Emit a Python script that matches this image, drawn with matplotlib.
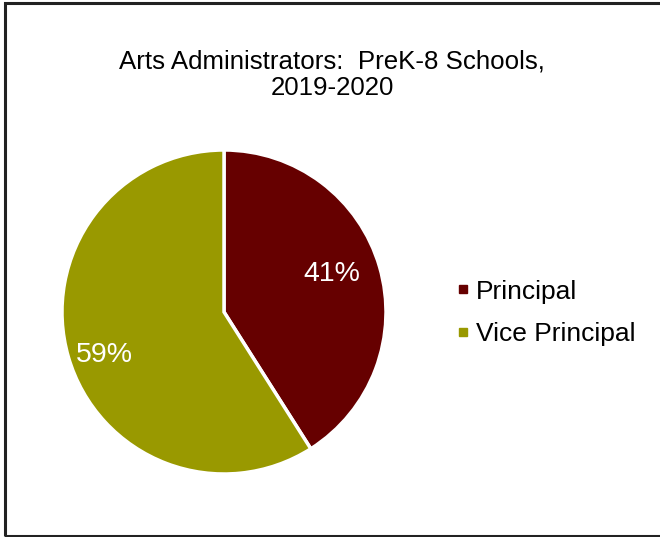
import matplotlib
matplotlib.use("Agg")
import matplotlib.pyplot as plt
from matplotlib.patches import Rectangle
from matplotlib.lines import Line2D

plt.rcParams['font.family'] = ['Liberation Sans', 'DejaVu Sans']

title = "Arts Administrators:  PreK-8 Schools,\n2019-2020"
categories = ["Principal", "Vice Principal"]
shares = [41, 59]
colors = ["#660000", "#999900"]

W, H = 660, 537
fig = plt.figure(figsize=(W / 100, H / 100), dpi=100)

# outer frame
fig.patches.append(Rectangle((4.5 / W, 1.5 / H), 1.0, (534 - 1.5) / H,
                             transform=fig.transFigure, fill=False,
                             edgecolor="#222222", linewidth=2.2))

cx, cy, r = 224, 312, 162
ax = fig.add_axes([(cx - r) / W, (H - cy - r) / H, 2 * r / W, 2 * r / H])
wedges, texts, autotexts = ax.pie(
    shares, colors=colors, startangle=90, counterclock=False,
    autopct=lambda p: f"{p:.0f}%", pctdistance=0.72,
    wedgeprops=dict(edgecolor="white", linewidth=2.5),
    textprops=dict(color="white", fontsize=20.5))
ax.set_aspect("equal")
ax.set_xlim(-1, 1)
ax.set_ylim(-1, 1)

label_pos = [(0.667, 0.235), (-0.741, -0.265)]
for t, (x, y) in zip(autotexts, label_pos):
    t.set_position((x, y))

fig.text(332 / W, 1 - 75 / H, title, ha="center", va="center",
         fontsize=18.6, linespacing=1.15)

handles = [Line2D([0], [0], marker="s", linestyle="none", markersize=5.5,
                  markerfacecolor=c, markeredgecolor=c) for c in colors]
fig.legend(handles, categories, loc="center left",
           bbox_to_anchor=(452 / W, 1 - 313 / H), frameon=False,
           fontsize=19, handletextpad=0.1, labelspacing=0.72,
           handlelength=0.8, borderaxespad=0, borderpad=0)

fig.savefig("out.png", dpi=100)
